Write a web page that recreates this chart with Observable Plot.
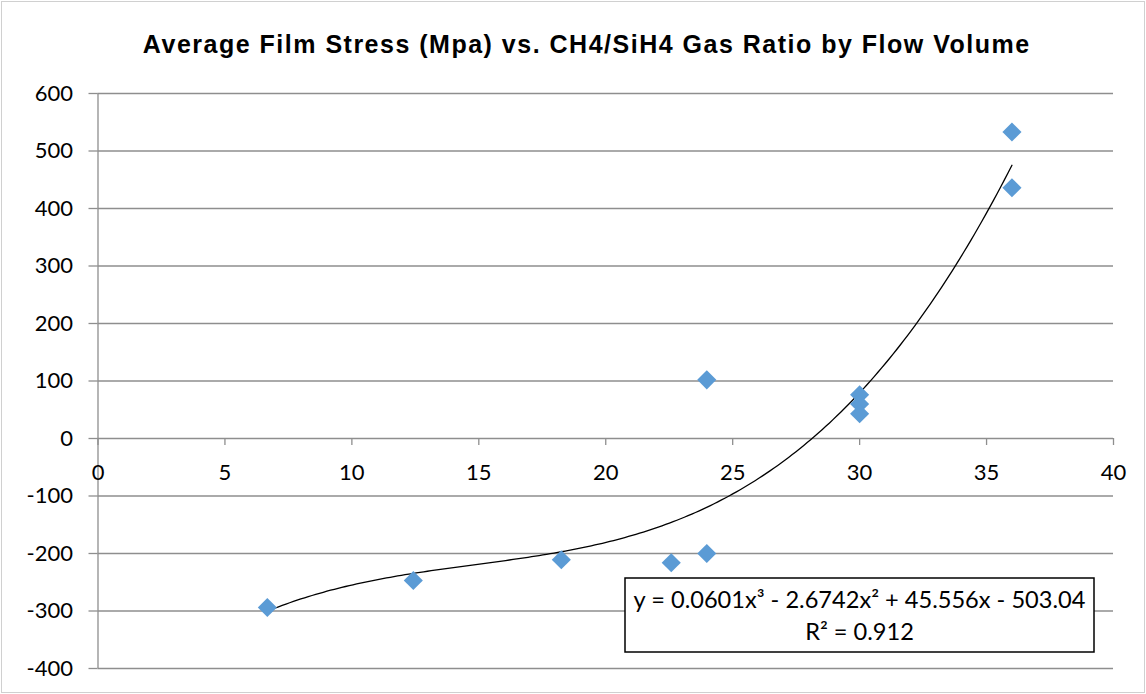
<!DOCTYPE html>
<html>
<head>
<meta charset="utf-8">
<script src="https://cdn.jsdelivr.net/npm/d3@7"></script>
<script src="https://cdn.jsdelivr.net/npm/@observablehq/plot@0.6"></script>
<style>
  html, body { margin: 0; padding: 0; background: #fff; }
  #chart { position: relative; width: 1146px; height: 694px; }
  #frame { position: absolute; left: 1px; top: 1px; width: 1142px; height: 690px; border: 1px solid #d0d0d0; pointer-events: none; }
</style>
</head>
<body>
<div id="chart"><div id="frame"></div></div>
<script>
const title = "Average Film Stress (Mpa) vs. CH4/SiH4 Gas Ratio by Flow Volume";
const gasRatio = [6.67, 12.42, 18.25, 22.58, 23.98, 23.98, 30, 30, 30, 36, 36];
const filmStress = [-294, -247, -211, -216, -200, 102, 76, 60, 43, 533, 436];
const trendCoefficients = [0.0601, -2.6742, 45.556, -503.04]; // x^3, x^2, x, const
const trendRange = [6.67, 36];
const trendLabel = ["y = 0.0601x³ - 2.6742x² + 45.556x - 503.04", "R² = 0.912"];
const xTicks = [0, 5, 10, 15, 20, 25, 30, 35, 40];
const yTicks = [-400, -300, -200, -100, 0, 100, 200, 300, 400, 500, 600];

const points = gasRatio.map((x, i) => ({x, y: filmStress[i]}));
const [a, b, c, d0] = trendCoefficients;
const trend = d3.range(0, 201).map(i => {
  const x = trendRange[0] + (trendRange[1] - trendRange[0]) * i / 200;
  return {x, y: a * x ** 3 + b * x ** 2 + c * x + d0};
});

const gridColor = "#8e8e8e";
const font = "Lato, 'Open Sans', sans-serif";

const chart = Plot.plot({
  width: 1146,
  height: 694,
  marginLeft: 97.5,
  marginRight: 33,
  marginTop: 93,
  marginBottom: 26,
  style: {fontFamily: font, fontSize: "22px", color: "#000", background: "transparent"},
  x: {domain: [0, 40], axis: null},
  y: {domain: [-400, 600], axis: null},
  marks: [
    Plot.ruleY(yTicks, {y: d => d, stroke: gridColor, strokeWidth: 1.3}),
    Plot.ruleX([0], {x: d => d, y1: -400, y2: 600, stroke: gridColor, strokeWidth: 1.3}),
    Plot.axisY(yTicks, {
      tickSize: 9, tickPadding: 16, stroke: gridColor, strokeWidth: 1.3,
      fontSize: 22, fill: "#000", tickFormat: d => String(d), label: null
    }),
    Plot.ruleX(xTicks, {x: d => d, y1: 0, y2: 0, insetBottom: -7, stroke: gridColor, strokeWidth: 1.3}),
    Plot.text(xTicks, {x: d => d, y: 0, dy: 34, text: d => String(d), fontSize: 22, fill: "#000"}),
    Plot.line(trend, {x: "x", y: "y", stroke: "#000", strokeWidth: 1.3}),
    Plot.dot(points, {x: "x", y: "y", symbol: "diamond2", r: 8.6, fill: "#5b9bd5", stroke: "none"}),
    Plot.text([title], {frameAnchor: "top", dx: -19, dy: -58, text: d => d, fontFamily: "'Liberation Sans', Arial, sans-serif", fontWeight: "bold", fontSize: 25, fill: "#000"})
  ]
});

// stretch title letter spacing to match the reference width
d3.select(chart).selectAll("text").filter(function() { return this.textContent === title; })
  .style("letter-spacing", "1.5px");

// trendline label box
const svg = d3.select(chart);
const bx = 625, by = 578, bw = 469, bh = 74;
const gBox = svg.append("g");
gBox.append("rect").attr("x", bx).attr("y", by).attr("width", bw).attr("height", bh)
  .attr("fill", "#fff").attr("stroke", "#000").attr("stroke-width", 1.5);
gBox.selectAll("text").data(trendLabel).join("text")
  .attr("x", bx + bw / 2).attr("y", (d, i) => by + 22 + i * 32)
  .attr("dy", "0.35em")
  .attr("text-anchor", "middle").attr("font-family", font).attr("font-size", 23.6).attr("fill", "#000")
  .text(d => d);

document.getElementById("chart").prepend(chart);
</script>
</body>
</html>
